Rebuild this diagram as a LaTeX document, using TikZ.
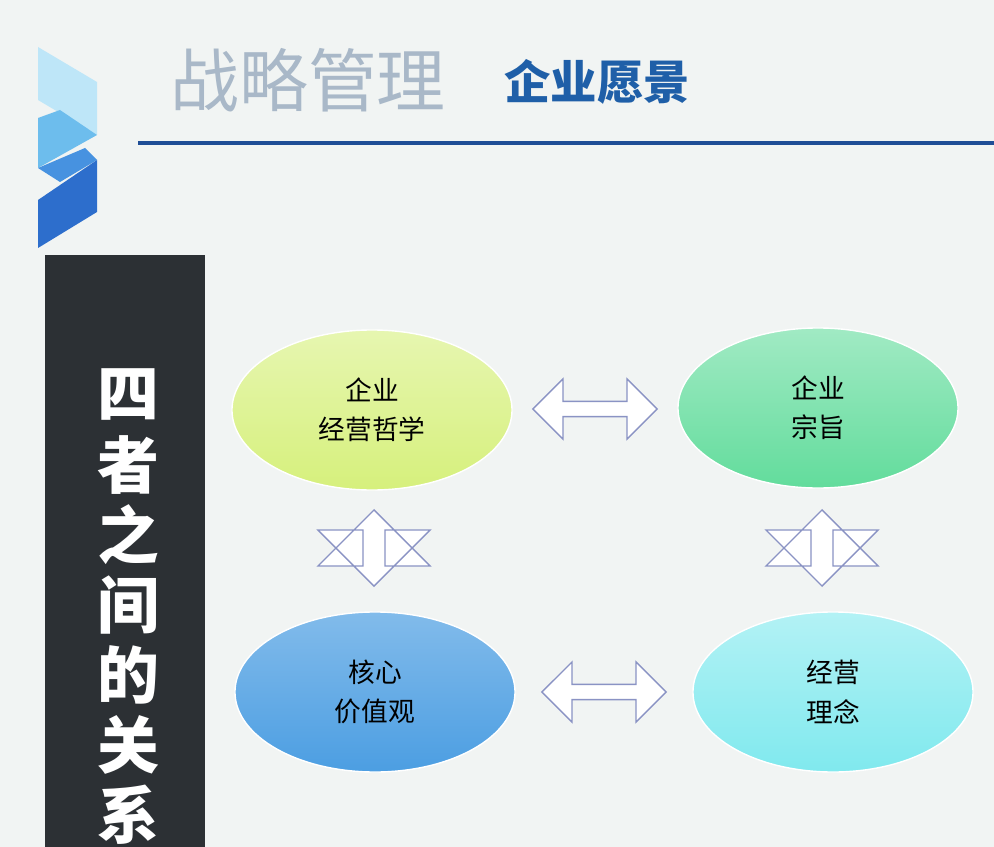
\documentclass[tikz,border=0pt]{standalone}
\usepackage{fontspec}
\setmainfont{Noto Sans CJK SC}
\usetikzlibrary{shapes.arrows,shapes.geometric,calc}
\definecolor{bgcol}{HTML}{F1F4F3}
\definecolor{barcol}{HTML}{2C3034}
\definecolor{linecol}{HTML}{1F4E96}
\definecolor{titlecol}{HTML}{A9B8C8}
\definecolor{subcol}{HTML}{1F5FA8}
\definecolor{arrowcol}{HTML}{8A93C4}
\definecolor{philocol}{HTML}{D6F07C}
\definecolor{purposecol}{HTML}{62DC9C}
\definecolor{valuescol}{HTML}{4C9EE2}
\definecolor{conceptcol}{HTML}{80E9EE}
\definecolor{logoa}{HTML}{BEE6F8}
\definecolor{logob}{HTML}{6DBDED}
\definecolor{logoc}{HTML}{4792E0}
\definecolor{logod}{HTML}{2D6ECC}
\tikzset{
  idea/.style={ellipse, minimum width=7cm, minimum height=4cm, align=center,
    font=\fontsize{19}{28}\selectfont, draw=white, line width=1pt},
  link/.style={double arrow, draw=arrowcol, fill=white, line width=1pt,
    minimum width=1.5cm, minimum height=3.1cm, double arrow head extend=0.4cm},
}
\begin{document}
\begin{tikzpicture}[x=0.025cm, y=-0.025cm]
  \fill[bgcol] (0,0) rectangle (994,847);
  \useasboundingbox (0,0) rectangle (994,847);
  % logo
  \fill[logoa] (38,47) -- (97,82) -- (97,135) -- (38,100) -- cycle;
  \fill[logob] (38,118) -- (60,110) -- (97,135) -- (38,168) -- cycle;
  \fill[logoc] (38,168) -- (85,148) -- (97,160) -- (60,182) -- cycle;
  \fill[logod] (38,200) -- (97,160) -- (97,212) -- (38,248) -- cycle;
  % header
  \node[text=titlecol, font=\fontsize{49}{52}\selectfont] (title) at (308,80) {战略管理};
  \node[text=subcol, font=\bfseries\fontsize{33}{36}\selectfont] (sub) at (597,82) {企业愿景};
  \draw[linecol, line width=2.5pt] (138,143) -- (994,143);
  % side bar
  \fill[barcol] (45,255) rectangle (205,847);
  \foreach \c [count=\i] in {四,者,之,间,的,关,系}
    \node[text=white, font=\bfseries\fontsize{44}{48}\selectfont] (side-\i) at (128,325+\i*70) {\c};
  % ideas
  \node[idea, top color=philocol!60!white, bottom color=philocol] (philo) at (372,410) {企业\\经营哲学};
  \node[idea, top color=purposecol!60!white, bottom color=purposecol] (purpose) at (818,408) {企业\\宗旨};
  \node[idea, top color=valuescol!70!white, bottom color=valuescol] (values) at (375,692) {核心\\价值观};
  \node[idea, top color=conceptcol!60!white, bottom color=conceptcol] (concept) at (833,692) {经营\\理念};
  % links
  \node[link] (link-top) at ($(philo)!0.5!(purpose)$) {};
  \node[link] (link-bottom) at ($(values)!0.5!(concept)$) {};
  \node[link, rotate=90, minimum height=1.9cm, minimum width=2.8cm, double arrow head extend=0.55cm] (link-left) at (374,548) {};
  \node[link, rotate=90, minimum height=1.9cm, minimum width=2.8cm, double arrow head extend=0.55cm] (link-right) at (822,548) {};
\end{tikzpicture}
\end{document}
